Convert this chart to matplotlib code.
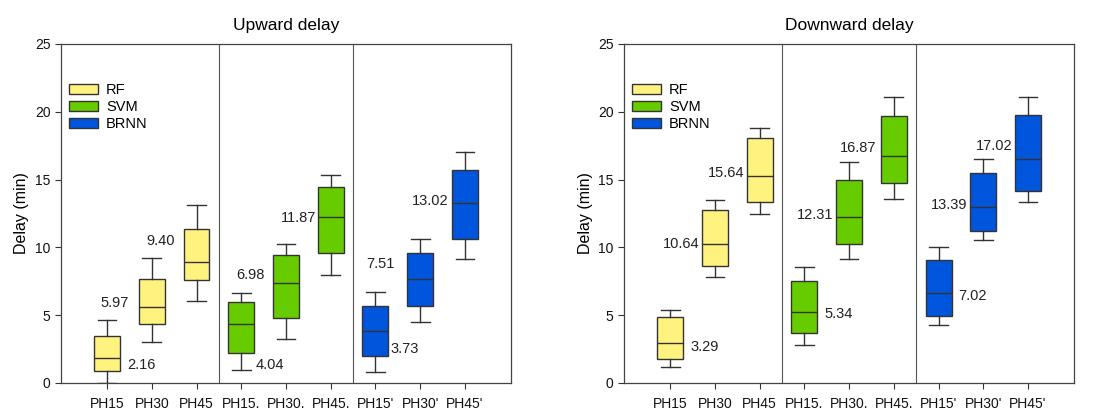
import numpy as np
import matplotlib
matplotlib.use("Agg")
import matplotlib.pyplot as plt
from matplotlib.patches import Patch

plt.rcParams['font.family'] = ['Liberation Sans', 'DejaVu Sans']

# ==============================
# Data
# ==============================
tick_labels = ["PH15", "PH30", "PH45", "PH15.", "PH30.", "PH45.", "PH15'", "PH30'", "PH45'"]
models = ["RF", "SVM", "BRNN"]

# upward delay: whisker low, q1, median, q3, whisker high
up_wlo = [0.0, 3.02, 6.07, 0.98, 3.22, 7.93, 0.81, 4.49, 9.11]
up_q1 = [0.91, 4.35, 7.56, 2.23, 4.76, 9.55, 1.96, 5.67, 10.63]
up_med = [1.84, 5.57, 8.91, 4.32, 7.34, 12.23, 3.83, 7.66, 13.24]
up_q3 = [3.49, 7.69, 11.35, 5.99, 9.41, 14.44, 5.67, 9.55, 15.67]
up_whi = [4.62, 9.23, 13.16, 6.66, 10.22, 15.30, 6.70, 10.63, 17.04]
up_labels = ["5.97", "2.16", "9.40", "6.98", "4.04", "11.87", "7.51", "3.73", "13.02"]

# downward delay
dn_wlo = [1.15, 7.83, 12.48, 2.78, 9.14, 13.53, 4.30, 10.56, 13.34]
dn_q1 = [1.77, 8.62, 13.36, 3.68, 10.27, 14.71, 4.91, 11.20, 14.19]
dn_med = [2.95, 10.24, 15.23, 5.23, 12.21, 16.77, 6.63, 12.99, 16.55]
dn_q3 = [4.86, 12.75, 18.05, 7.49, 14.96, 19.65, 9.04, 15.50, 19.74]
dn_whi = [5.40, 13.46, 18.81, 8.57, 16.33, 21.07, 10.02, 16.53, 21.07]
dn_labels = ["3.29", "10.64", "15.64", "5.34", "12.31", "16.87", "7.02", "13.39", "17.02"]

# annotation placement (x, y, ha) - layout only
up_label_pos = [(1.16, 5.9, 'center'), (1.77, 1.3, 'center'), (2.2, 10.45, 'center'),
                (4.21, 7.95, 'center'), (4.65, 1.35, 'center'), (5.68, 12.2, 'right'),
                (7.12, 8.8, 'center'), (7.65, 2.5, 'center'), (8.64, 13.45, 'right')]
dn_label_pos = [(1.76, 2.65, 'center'), (1.65, 10.24, 'right'), (2.66, 15.45, 'right'),
                (4.76, 5.1, 'center'), (4.65, 12.4, 'right'), (5.62, 17.3, 'right'),
                (7.75, 6.45, 'center'), (7.65, 13.1, 'right'), (8.25, 17.45, 'center')]

colors = {"RF": "#FFF27F", "SVM": "#66CC00", "BRNN": "#0055DD"}
box_colors = [colors[m] for m in models for _ in range(3)]


def draw_panel(ax, wlo, q1, med, q3, whi, labels, label_pos, title):
    stats = []
    for i in range(len(tick_labels)):
        stats.append({'whislo': wlo[i], 'q1': q1[i], 'med': med[i],
                      'q3': q3[i], 'whishi': whi[i], 'fliers': []})
    pos = np.arange(1, len(tick_labels) + 1)
    bp = ax.bxp(stats, positions=pos, widths=0.58, patch_artist=True,
                showfliers=False, manage_ticks=False,
                boxprops=dict(edgecolor='#333333', linewidth=1.0),
                medianprops=dict(color='#333333', linewidth=1.0),
                whiskerprops=dict(color='#333333', linewidth=1.0),
                capprops=dict(color='#333333', linewidth=1.0),
                capwidths=0.42)
    for patch, c in zip(bp['boxes'], box_colors):
        patch.set_facecolor(c)

    for txt, (x, y, ha) in zip(labels, label_pos):
        ax.text(x, y, txt, ha=ha, va='center', fontsize=10.5, color='#222222')

    # separators between model groups
    for xs in (3.5, 6.5):
        ax.axvline(xs, color='#555555', linewidth=0.8)

    ax.set_xlim(-0.03, 10.03)
    ax.set_ylim(0, 25)
    ax.set_xticks(pos)
    ax.set_xticklabels(tick_labels, fontsize=10)
    ax.set_yticks([0, 5, 10, 15, 20, 25])
    ax.tick_params(axis='y', labelsize=10, direction='out', length=4, width=0.8, colors='#333333')
    ax.tick_params(axis='x', direction='out', length=4, width=0.8, colors='#333333', pad=6)
    for lbl in ax.get_xticklabels() + ax.get_yticklabels():
        lbl.set_color('#111111')
    for sp in ax.spines.values():
        sp.set_color('#444444')
        sp.set_linewidth(0.9)
    ax.set_ylabel("Delay (min)", fontsize=11.5)
    ax.set_title(title, fontsize=12.5, pad=10)

    handles = [Patch(facecolor=colors[m], edgecolor='#333333', linewidth=1.0, label=m) for m in models]
    ax.legend(handles=handles, loc='upper left', bbox_to_anchor=(-0.005, 0.915),
              frameon=False, fontsize=10.5, handlelength=2.0, handleheight=0.7,
              labelspacing=0.22, handletextpad=0.55, borderaxespad=0.3)


fig = plt.figure(figsize=(10.93, 4.09), dpi=100)
ax1 = fig.add_axes([0.0558, 0.0636, 0.4117, 0.829])
ax2 = fig.add_axes([0.571, 0.0636, 0.4117, 0.829])

draw_panel(ax1, up_wlo, up_q1, up_med, up_q3, up_whi, up_labels, up_label_pos, "Upward delay")
draw_panel(ax2, dn_wlo, dn_q1, dn_med, dn_q3, dn_whi, dn_labels, dn_label_pos, "Downward delay")

fig.savefig("out.png", dpi=100)
